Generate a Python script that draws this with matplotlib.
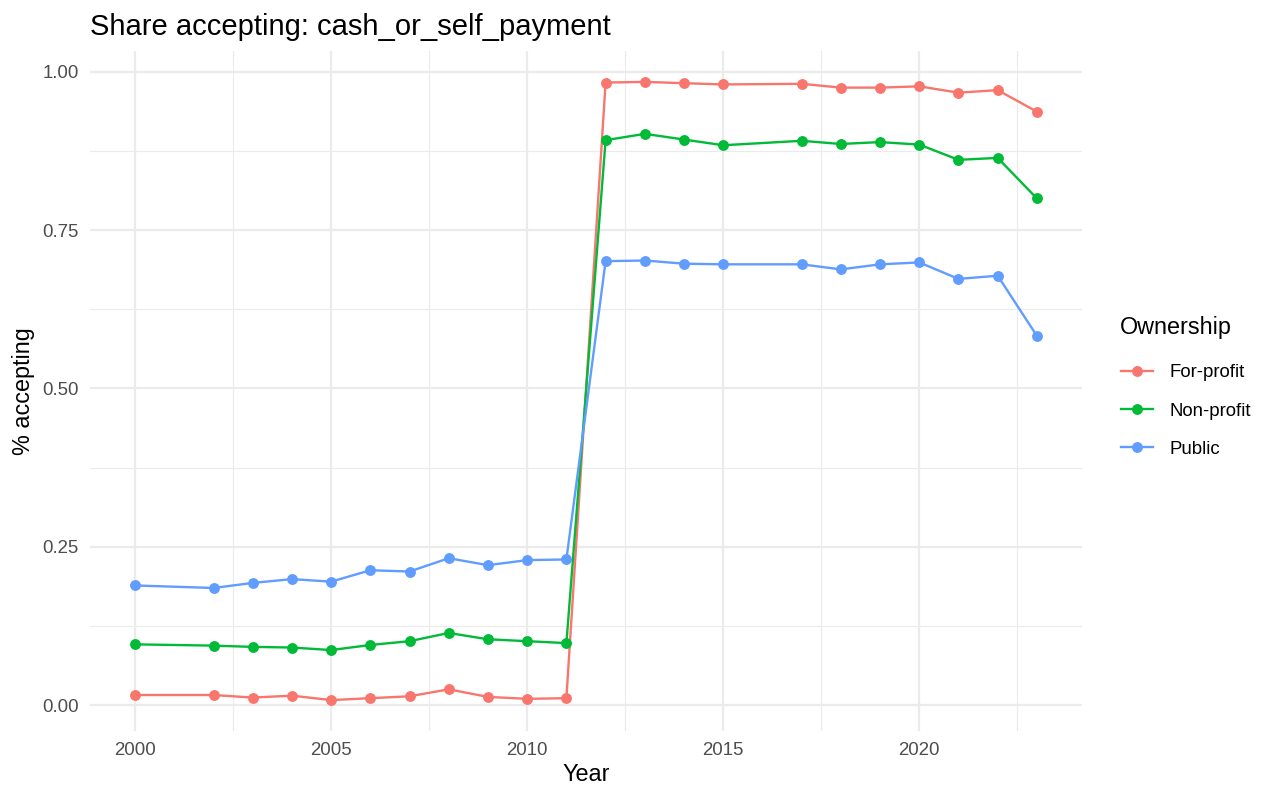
import matplotlib
matplotlib.use("Agg")
import matplotlib.pyplot as plt
from matplotlib.lines import Line2D
from matplotlib.ticker import FixedLocator

plt.rcParams['font.family'] = ['Liberation Sans', 'DejaVu Sans']

years = [2000, 2002, 2003, 2004, 2005, 2006, 2007, 2008, 2009, 2010, 2011,
         2012, 2013, 2014, 2015, 2017, 2018, 2019, 2020, 2021, 2022, 2023]

for_profit = [0.016, 0.016, 0.012, 0.015, 0.008, 0.011, 0.014, 0.025, 0.013, 0.010, 0.011,
              0.983, 0.984, 0.982, 0.980, 0.981, 0.975, 0.975, 0.977, 0.967, 0.971, 0.937]
non_profit = [0.096, 0.094, 0.092, 0.091, 0.087, 0.095, 0.101, 0.114, 0.104, 0.101, 0.098,
              0.892, 0.902, 0.893, 0.884, 0.891, 0.886, 0.889, 0.885, 0.861, 0.864, 0.800]
public = [0.189, 0.185, 0.193, 0.199, 0.195, 0.213, 0.211, 0.232, 0.221, 0.229, 0.230,
          0.701, 0.702, 0.697, 0.696, 0.696, 0.688, 0.696, 0.699, 0.673, 0.678, 0.583]

series_names = ["For-profit", "Non-profit", "Public"]
series_values = [for_profit, non_profit, public]
colors = ["#F8766D", "#00BA38", "#619CFF"]

y_ticks = [0.00, 0.25, 0.50, 0.75, 1.00]
y_tick_labels = ["0.00", "0.25", "0.50", "0.75", "1.00"]
x_ticks = [2000, 2005, 2010, 2015, 2020]

fig = plt.figure(figsize=(12.8, 8), dpi=100)
ax = fig.add_axes([90/1280, 1-731/800, 992/1280, 680/800])

for name, vals, c in zip(series_names, series_values, colors):
    ax.plot(years, vals, color=c, lw=1.7, marker='o', ms=6.8, label=name, zorder=3)

xmin, xmax = min(years), max(years)
xr = xmax - xmin
ax.set_xlim(xmin - 0.05*xr, xmax + 0.05*xr)
allv = for_profit + non_profit + public
ymin, ymax = min(allv), max(allv)
yr = ymax - ymin
ax.set_ylim(ymin - 0.05*yr, ymax + 0.05*yr)

ax.xaxis.set_major_locator(FixedLocator(x_ticks))
ax.xaxis.set_minor_locator(FixedLocator([2002.5, 2007.5, 2012.5, 2017.5, 2022.5]))
ax.set_yticks(y_ticks)
ax.set_yticklabels(y_tick_labels)
ax.yaxis.set_minor_locator(FixedLocator([0.125, 0.375, 0.625, 0.875]))

ax.grid(which='major', color='#EBEBEB', lw=1.6)
ax.grid(which='minor', color='#EBEBEB', lw=0.8)
ax.set_axisbelow(True)
for s in ax.spines.values():
    s.set_visible(False)
ax.tick_params(which='both', length=0)
ax.tick_params(axis='both', labelsize=13.4, colors='#4D4D4D')
ax.tick_params(axis='x', pad=8)
ax.tick_params(axis='y', pad=8)

ax.set_xlabel("Year", fontsize=16.8, color='black', labelpad=3)
ax.set_ylabel("% accepting", fontsize=16.8, color='black', labelpad=5)
fig.text(90/1280, 1-35/800, "Share accepting: cash_or_self_payment", fontsize=21,
         ha='left', va='baseline', color='black')

fig.text(1120/1280, 1-328/800, "Ownership", fontsize=16.8, ha='left', va='center',
         color='black')
handles = [Line2D([0], [0], color=c, lw=1.7, marker='o', ms=6.8) for c in colors]
leg = fig.legend(handles, series_names, loc='center left',
                 bbox_to_anchor=(1121/1280, 1-411/800), frameon=False,
                 fontsize=13.4, handlelength=1.7, borderaxespad=0, borderpad=0,
                 labelspacing=1.15, handletextpad=0.9)

fig.savefig("out.png", dpi=100)
